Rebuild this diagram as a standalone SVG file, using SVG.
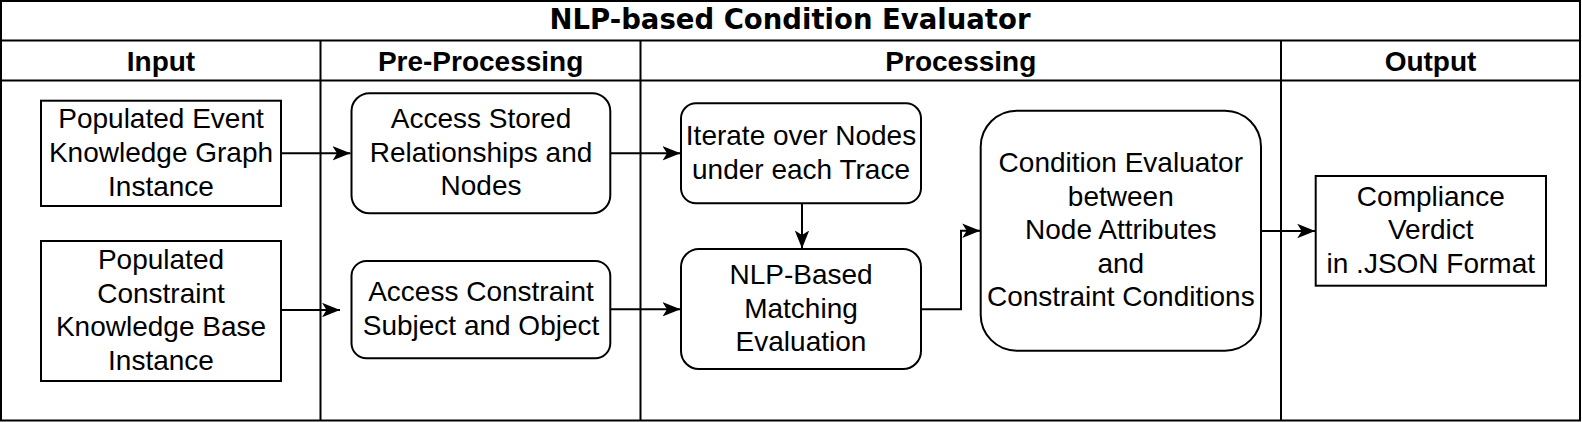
<svg xmlns="http://www.w3.org/2000/svg" width="1582" height="422" viewBox="0 0 1582 422">
<style>
.frame{fill:none;stroke:#000;stroke-width:2}
.box{fill:#fff;stroke:#000;stroke-width:2}
.t{font-family:"Liberation Sans",Arial,sans-serif;font-size:28px;fill:#000;text-anchor:middle}
.h{font-family:"Liberation Sans",Arial,sans-serif;font-size:28px;font-weight:bold;fill:#000;text-anchor:middle}
.title{font-family:"DejaVu Sans",Verdana,sans-serif;font-size:27.5px;font-weight:bold;fill:#000;text-anchor:middle}
.c{fill:none;stroke:#000;stroke-width:2}
</style>
<defs>
<marker id="arr" markerUnits="userSpaceOnUse" markerWidth="20" markerHeight="16" refX="18" refY="8" orient="auto">
<path d="M0,0.8 L18,8 L0,15.2 L4.5,8 Z" fill="#000"/>
</marker>
</defs>
<rect x="0" y="0" width="1582" height="422" fill="#fff"/>
<g id="frame">
<rect class="frame" x="1" y="1" width="1579" height="419.5"/>
<line class="frame" x1="1" y1="40.5" x2="1580" y2="40.5"/>
<line class="frame" x1="1" y1="80.5" x2="1580" y2="80.5"/>
<line class="frame" x1="320.5" y1="40.5" x2="320.5" y2="420.5"/>
<line class="frame" x1="640.5" y1="40.5" x2="640.5" y2="420.5"/>
<line class="frame" x1="1281" y1="40.5" x2="1281" y2="420.5"/>
<text class="title" x="790" y="28.5">NLP-based Condition Evaluator</text>
<text class="h" x="161" y="70.5">Input</text>
<text class="h" x="480.6" y="70.5">Pre-Processing</text>
<text class="h" x="960.8" y="70.5">Processing</text>
<text class="h" x="1430.5" y="70.5">Output</text>
</g>
<g id="connectors">
<line class="c" x1="281" y1="153.3" x2="350.5" y2="153.3" marker-end="url(#arr)"/>
<line class="c" x1="281" y1="310" x2="340" y2="310" marker-end="url(#arr)"/>
<line class="c" x1="610.3" y1="153.3" x2="680.5" y2="153.3" marker-end="url(#arr)"/>
<line class="c" x1="610.3" y1="309.3" x2="680.5" y2="309.3" marker-end="url(#arr)"/>
<line class="c" x1="802" y1="203.3" x2="802" y2="248.5" marker-end="url(#arr)"/>
<polyline class="c" points="921,309.3 961,309.3 961,230.7 980.2,230.7" marker-end="url(#arr)"/>
<line class="c" x1="1261" y1="231" x2="1315.2" y2="231" marker-end="url(#arr)"/>
</g>
<g id="input-ekg">
<rect class="box" x="41" y="100.7" width="240" height="105.3"/>
<text class="t" x="161" y="128.3">Populated Event</text>
<text class="t" x="161" y="161.9">Knowledge Graph</text>
<text class="t" x="161" y="195.5">Instance</text>
</g>
<g id="input-ckb">
<rect class="box" x="41" y="241" width="240" height="140"/>
<text class="t" x="161" y="269.1">Populated</text>
<text class="t" x="161" y="302.7">Constraint</text>
<text class="t" x="161" y="336.3">Knowledge Base</text>
<text class="t" x="161" y="369.9">Instance</text>
</g>
<g id="pre-access-stored">
<rect class="box" x="351.5" y="93.3" width="258.8" height="120" rx="18" ry="18"/>
<text class="t" x="481" y="128.2">Access Stored</text>
<text class="t" x="481" y="161.8">Relationships and</text>
<text class="t" x="481" y="195.4">Nodes</text>
</g>
<g id="pre-access-constraint">
<rect class="box" x="351.5" y="261" width="258.8" height="97.3" rx="15" ry="15"/>
<text class="t" x="481" y="301.4">Access Constraint</text>
<text class="t" x="481" y="335">Subject and Object</text>
</g>
<g id="proc-iterate">
<rect class="box" x="681" y="103.3" width="240" height="100" rx="15" ry="15"/>
<text class="t" x="801" y="145">Iterate over Nodes</text>
<text class="t" x="801" y="178.6">under each Trace</text>
</g>
<g id="proc-nlp">
<rect class="box" x="681" y="249" width="240" height="120" rx="18" ry="18"/>
<text class="t" x="801" y="283.9">NLP-Based</text>
<text class="t" x="801" y="317.5">Matching</text>
<text class="t" x="801" y="351.1">Evaluation</text>
</g>
<g id="proc-condition">
<rect class="box" x="980.7" y="110.7" width="280.3" height="240" rx="36" ry="36"/>
<text class="t" x="1120.8" y="172">Condition Evaluator</text>
<text class="t" x="1120.8" y="205.6">between</text>
<text class="t" x="1120.8" y="239.2">Node Attributes</text>
<text class="t" x="1120.8" y="272.8">and</text>
<text class="t" x="1120.8" y="306.4">Constraint Conditions</text>
</g>
<g id="output-verdict">
<rect class="box" x="1315.7" y="176" width="230.3" height="109.7"/>
<text class="t" x="1430.8" y="205.8">Compliance</text>
<text class="t" x="1430.8" y="239.4">Verdict</text>
<text class="t" x="1430.8" y="273">in .JSON Format</text>
</g>
</svg>
